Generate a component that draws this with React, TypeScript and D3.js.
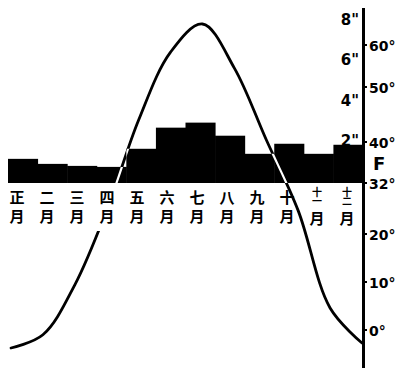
import React from "react";
import * as d3 from "d3";

const months = ["正", "二", "三", "四", "五", "六", "七", "八", "九", "十", "十一", "十二"];
const precipitation = [1.2, 0.95, 0.85, 0.8, 1.7, 2.75, 3.0, 2.35, 1.45, 1.95, 1.45, 1.9];
const temperature = [-3.75, -1.0, 9.4, 25.6, 44, 58.3, 65, 54.5, 40.4, 25.5, 4.6, -2.7];
const precipTicks = [2, 4, 6, 8];
const tempTicks = [0, 10, 20, 32, 40, 50, 60];

const W = 405;
const H = 372;
const axisX = 363.5;

export default function App() {
  const xBand = d3.scaleBand<string>().domain(months).range([8, 363]).padding(0);
  const xLabel = d3.scalePoint<string>().domain(months).range([17, 347]);
  const xCurve = d3.scalePoint<string>().domain(months).range([11, 362]);
  const yP = d3.scaleLinear().domain([0, 8]).range([183, 22]);
  const yT = d3.scaleLinear().domain(tempTicks).range([330, 282, 234, 183, 142, 87, 45]);

  const line = d3
    .line<number>()
    .x((_, i) => xCurve(months[i]) as number)
    .y((d) => yT(d))
    .curve(d3.curveCatmullRom.alpha(0.5));
  const path = line(temperature) || "";

  const gapX0 = xBand("三")! + xBand.bandwidth() * 0.5;
  const gapX1 = xBand("五")!;
  const gapY0 = yP(0);
  const gapY1 = yT(20) - 3;

  const cjk = "'Noto Sans CJK SC', 'Noto Sans CJK JP', sans-serif";
  const num = "'DejaVu Sans', sans-serif";

  return (
    <svg
      width={W}
      height={H}
      viewBox={`0 0 ${W} ${H}`}
      style={{ position: "absolute", left: 0, top: 0, background: "#fff" }}
    >
      <defs>
        <clipPath id="barsClip">
          {precipitation.map((p, i) => (
            <rect
              key={i}
              x={xBand(months[i])}
              y={yP(p)}
              width={xBand.bandwidth()}
              height={yP(0) - yP(p)}
            />
          ))}
        </clipPath>
        <mask id="gapMask">
          <rect x={0} y={0} width={W} height={H} fill="#fff" />
          <rect x={gapX0} y={gapY0} width={gapX1 - gapX0} height={gapY1 - gapY0} fill="#000" />
        </mask>
      </defs>
      <rect x={0} y={0} width={W} height={H} fill="#fff" />

      {/* precipitation bars */}
      {precipitation.map((p, i) => (
        <rect
          key={i}
          x={xBand(months[i])}
          y={yP(p)}
          width={xBand.bandwidth() + 0.5}
          height={yP(0) - yP(p)}
          fill="#000"
        />
      ))}

      {/* temperature curve */}
      <path d={path} fill="none" stroke="#000" strokeWidth={2.8} strokeLinecap="round" mask="url(#gapMask)" />
      <path d={path} fill="none" stroke="#fff" strokeWidth={2.2} clipPath="url(#barsClip)" />

      {/* month labels (vertical) */}
      {months.map((m, i) => {
        const x = xLabel(m) as number;
        if (m.length === 1) {
          return (
            <text
              key={i}
              x={x}
              y={190}
              fontFamily={cjk}
              fontSize={15}
              fontWeight="bold"
              fill="#000"
              style={{ writingMode: "vertical-rl", letterSpacing: "4px" }}
            >
              {m + "月"}
            </text>
          );
        }
        return (
          <text
            key={i}
            x={x}
            y={187}
            fontFamily={cjk}
            fontWeight="bold"
            fill="#000"
            style={{ writingMode: "vertical-rl" }}
          >
            <tspan fontSize={10} style={{ letterSpacing: "-1px" }}>{m}</tspan>
            <tspan fontSize={15} dy={6}>月</tspan>
          </text>
        );
      })}

      {/* right axis */}
      <line x1={axisX} x2={axisX} y1={8} y2={368} stroke="#000" strokeWidth={3} />
      {tempTicks.map((t) => (
        <line key={"tt" + t} x1={axisX} x2={axisX + 3.5} y1={yT(t)} y2={yT(t)} stroke="#000" strokeWidth={2} />
      ))}
      {precipTicks.map((p) => (
        <text
          key={"p" + p}
          x={359}
          y={yP(p) - 2}
          fontFamily={num}
          fontSize={15}
          fontWeight="bold"
          textAnchor="end"
          dominantBaseline="central"
          fill="#000"
        >
          {p}"
        </text>
      ))}
      {tempTicks.map((t) => (
        <text
          key={"t" + t}
          x={369}
          y={yT(t) + 1}
          fontFamily={num}
          fontSize={14}
          fontWeight="bold"
          textAnchor="start"
          dominantBaseline="central"
          fill="#000"
        >
          {t}°
        </text>
      ))}
      <text x={373} y={163} fontFamily={num} fontSize={18} fontWeight="bold" dominantBaseline="central" fill="#000">
        F
      </text>
    </svg>
  );
}
